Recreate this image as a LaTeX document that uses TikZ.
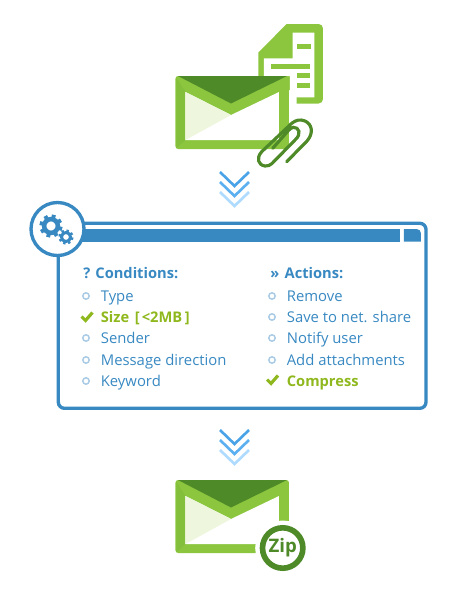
\documentclass[tikz,border=0pt]{standalone}
\usepackage{fontspec}
\setmainfont{Open Sans}
\usetikzlibrary{arrows.meta,calc}
\definecolor{mailg}{HTML}{8CC63F}
\definecolor{mailr}{HTML}{84BF3B}
\definecolor{maild}{HTML}{4F8A28}
\definecolor{maill}{HTML}{EEF7DE}
\definecolor{boxb}{HTML}{3889C2}
\definecolor{bullb}{HTML}{A9CBE6}
\definecolor{okg}{HTML}{8FB81E}
\definecolor{chev1}{HTML}{4AA3E6}
\definecolor{chev2}{HTML}{5CB0F0}
\definecolor{chev3}{HTML}{AEDBFF}
\tikzset{
  chev/.style={line width=1.5pt,miter limit=10},
  rahmen/.style={draw=boxb,line width=1.9pt},
  kopf/.style={font=\fontsize{8.35pt}{10pt}\selectfont\bfseries,text=boxb,anchor=base west,inner sep=0pt},
  zeile/.style={font=\fontsize{8.45pt}{10pt}\selectfont,text=boxb,anchor=base west,inner sep=0pt},
  zeileok/.style={font=\fontsize{8.35pt}{10pt}\selectfont\bfseries,text=okg,anchor=base west,inner sep=0pt},
  punkt/.style={draw=bullb,line width=0.85pt},
  haken/.style={draw=okg,line width=1.8pt},
  clip/.style={draw=maild,line width=1.8pt,line cap=round},
}
\newcommand{\brief}{%
  \fill[mailg,rounded corners=1.5] (175.5,76)--(289,76)--(289,149)--(175.5,149)--cycle;
  \fill[mailr] (176.5,78)--(185.5,92)--(185.5,140)--(176.5,148)--cycle;
  \fill[white] (185.5,92)--(231,115)--(279,92)--(279,140)--(185.5,140)--cycle;
  \fill[maill] (185.5,92)--(231,115)--(185.5,140)--cycle;
  \fill[maild] (178,76)--(287,76)--(231,103.5)--cycle;
}
\newcommand{\pfeile}{%
  \draw[chev,chev1] (220,172)--(234.5,186)--(249,172);
  \draw[chev,chev2] (220,182)--(234.5,196)--(249,182);
  \draw[chev,chev3] (220,192)--(234.5,206)--(249,192);
}
\newcommand{\zahnrad}[4]{% x, y, radius, teeth width
  \draw[boxb,line width=#4*0.72pt] (#1,#2) circle ({#3*0.6});
  \foreach \w in {0,45,...,315}
    \draw[boxb,line width=#4*0.62pt] ($(#1,#2)+(\w+15:{#3*0.7})$)--($(#1,#2)+(\w+15:#3)$);
}
\begin{document}
\begin{tikzpicture}[x=0.02cm,y=-0.02cm]
  \useasboundingbox (0,0) rectangle (470,600);
  % attachment sheet
  \fill[mailg] (286.7,24)[rounded corners=2.5]--(323,24)--(323,103.5)[sharp corners]--(296.7,103.5)--(296.7,90)--(258.3,90)--(258.3,52.5)--cycle;
  \fill[white] (292.7,32.7)--(314.5,32.7)--(314.5,97.3)--(290,97.3)--(290,76)--(264,76)--(264,58.3)--(292.7,58.3)--cycle;
  \fill[mailg] (296.7,44) rectangle (310.7,48.7);
  \fill[mailg] (270.7,64) rectangle (310,69);
  \fill[mailg] (296.7,73.3) rectangle (310,78.3);
  \fill[mailg] (296.7,83.3) rectangle (310,88.3);
  \brief
  \draw[clip] (286.7,161.7)--(307,141) .. controls (314,133) and (312,124) .. (305,121)
    .. controls (300,119) and (296,120) .. (291.7,123.3)--(261.7,151.7)
    .. controls (256,158) and (258,165) .. (265,166) .. controls (268,166.5) and (270,165) .. (272,163.5)
    --(295,140) .. controls (302,134) and (299,127) .. (293.3,127.3) .. controls (291,127.5) and (290,129) .. (288,131)--(272.7,148.3);
  \pfeile
  % rule box
  \draw[rahmen,rounded corners=3.5pt] (58.3,223.3)--(426,223.3)--(426,408.3)--(58.3,408.3)--cycle;
  \fill[boxb] (70,229) rectangle (400,241.7);
  \fill[boxb] (404,241.7)--(404,229)[rounded corners=2.5pt]--(421,229)[sharp corners]--(421,241.7)--cycle;
  \draw[rahmen,fill=white] (57.5,229) circle (26.5);
  \zahnrad{51}{226}{11.5}{3.6}
  \zahnrad{66}{237}{7.5}{2.3}
  % conditions
  \node[kopf] (cond) at (83,278) {? Conditions:};
  \foreach \nam/\txt/\yy in {typ/Type/301,send/Sender/343,dir/Message direction/365,key/Keyword/386} {
    \draw[punkt] (86,\yy-5) circle (3.2);
    \node[zeile] (\nam) at (100.5,\yy) {\txt};
  }
  \draw[haken] (81.5,316.5)--(85.5,320.5)--(92.5,312.5);
  \node[zeileok] (size) at (100.5,322) {Size\kern1pt{} [\kern1.2pt<2MB\kern1.5pt ]};
  % actions
  \node[kopf] (act) at (270,278) {»\kern3pt Actions:};
  \foreach \nam/\txt/\yy in {rem/Remove/301,save/Save to net. share/322,noti/Notify user/343,add/Add attachments/365} {
    \draw[punkt] (272,\yy-5) circle (3.2);
    \node[zeile] (\nam) at (286.5,\yy) {\txt};
  }
  \draw[haken] (267,379.5)--(271,383.5)--(278,375.5);
  \node[zeileok] (comp) at (286.5,386) {Compress};
  % result
  \begin{scope}[shift={(0,404)}]
    \brief
  \end{scope}
  \begin{scope}[shift={(0,258)}]
    \pfeile
  \end{scope}
  \fill[white] (282.7,548) circle (27.5);
  \draw[maild,line width=3.2pt,fill=white] (282.7,548) circle (20.2);
  \node[font=\fontsize{10.6pt}{10pt}\selectfont\bfseries,text=maild,inner sep=0pt] (zip) at (282.7,547.5) {Zip};
\end{tikzpicture}
\end{document}
